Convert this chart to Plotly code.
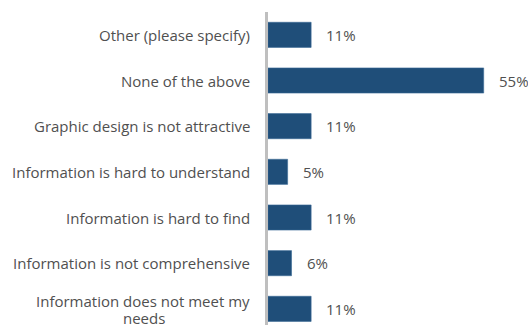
import plotly.graph_objects as go

categories = [
    "Other (please specify)",
    "None of the above",
    "Graphic design is not attractive",
    "Information is hard to understand",
    "Information is hard to find",
    "Information is not comprehensive",
    "Information does not meet my<br>needs",
]
values = [11, 55, 11, 5, 11, 6, 11]
value_labels = ["11%", "55%", "11%", "5%", "11%", "6%", "11%"]

bar_color = "#1F4E79"
text_color = "#505050"
font_family = "Open Sans"
font_size = 15
label_font = dict(family=font_family, size=font_size, color=text_color)

fig = go.Figure()
fig.add_trace(go.Bar(
    x=values,
    y=categories,
    orientation="h",
    marker=dict(color=bar_color, line=dict(color="#3A6A96", width=0.6)),
    hoverinfo="skip",
))

annotations = []
for cat, val, lab in zip(categories, values, value_labels):
    # value label just past the end of each bar
    annotations.append(dict(
        x=val, y=cat, xref="x", yref="y", text=lab, showarrow=False,
        xanchor="left", xshift=13, font=label_font,
    ))
    # category label, right-aligned against the axis line;
    # wrapped labels are drawn line by line with a tighter line spacing
    lines = cat.split("<br>")
    if len(lines) == 1:
        annotations.append(dict(
            x=0, y=cat, xref="paper", yref="y", text=cat, showarrow=False,
            xanchor="right", xshift=-16, font=label_font,
        ))
    else:
        annotations.append(dict(
            x=0, y=cat, xref="paper", yref="y", text=lines[0], showarrow=False,
            xanchor="right", xshift=-16, yshift=8, font=label_font,
        ))
        annotations.append(dict(
            x=0, y=cat, xref="paper", yref="y", text=lines[1], showarrow=False,
            xanchor="center", xshift=-124, yshift=-9, font=label_font,
        ))

fig.update_layout(
    width=528, height=325,
    margin=dict(l=268, r=0, t=12, b=0),
    paper_bgcolor="white", plot_bgcolor="white",
    bargap=0.45,
    showlegend=False,
    annotations=annotations,
    xaxis=dict(range=[0, 66.3], showgrid=False, zeroline=False,
               showticklabels=False, showline=False, fixedrange=True),
    yaxis=dict(range=[6.354, -0.5], showgrid=False, zeroline=False,
               showticklabels=False, showline=True, linewidth=3,
               linecolor="#BFBFBF", ticks="", fixedrange=True),
)

fig.write_html("out.html")
